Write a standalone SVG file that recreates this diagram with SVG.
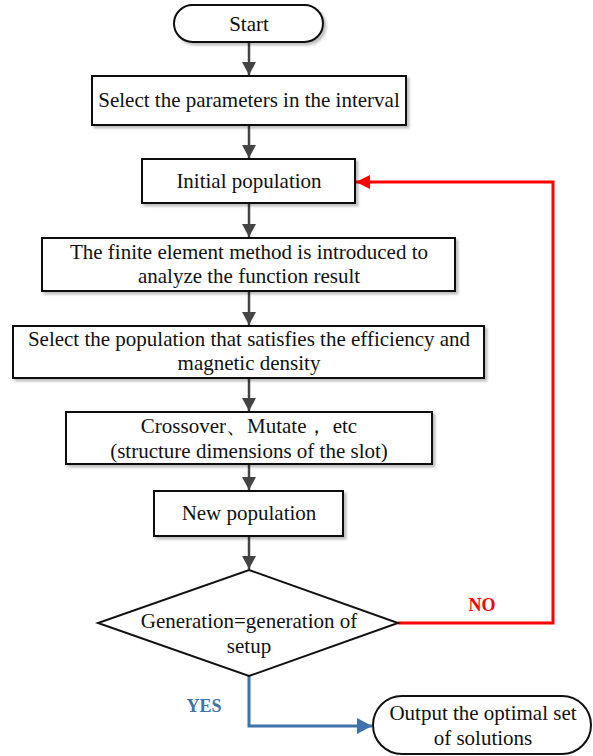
<svg xmlns="http://www.w3.org/2000/svg" width="593" height="756" viewBox="0 0 593 756">
<style>
.box{fill:#fff;stroke:#111;stroke-width:2;filter:url(#sh)}
.t{font-family:"Liberation Serif","Times New Roman",Times,serif;font-size:21px;fill:#111;text-anchor:middle}
.ln{fill:none;stroke:#444;stroke-width:2.5}
.lb{font-family:"Liberation Serif","Times New Roman",Times,serif;font-size:18px;font-weight:bold;text-anchor:middle}
</style>
<defs>
<filter id="sh" x="-10%" y="-10%" width="130%" height="140%">
<feDropShadow dx="2.5" dy="2.5" stdDeviation="1.2" flood-color="#000" flood-opacity="0.25"/>
</filter>
<marker id="ag" markerWidth="14" markerHeight="14" refX="13" refY="7" orient="auto" markerUnits="userSpaceOnUse">
<path d="M0,0 L13,7 L0,14 z" fill="#444"/>
</marker>
<marker id="ar" markerWidth="15" markerHeight="14" refX="14" refY="7" orient="auto" markerUnits="userSpaceOnUse">
<path d="M0,0 L14,7 L0,14 z" fill="#f00"/>
</marker>
<marker id="ab" markerWidth="16" markerHeight="16" refX="15" refY="8" orient="auto" markerUnits="userSpaceOnUse">
<path d="M0,0 L15,8 L0,16 z" fill="#3f73aa"/>
</marker>
</defs>
<g id="connectors">
<path class="ln" d="M249,42 V75" marker-end="url(#ag)"/>
<path class="ln" d="M249,125 V158" marker-end="url(#ag)"/>
<path class="ln" d="M249,203 V237" marker-end="url(#ag)"/>
<path class="ln" d="M249,291 V325" marker-end="url(#ag)"/>
<path class="ln" d="M249,378 V411" marker-end="url(#ag)"/>
<path class="ln" d="M249,464 V490" marker-end="url(#ag)"/>
<path class="ln" d="M249,536 V569" marker-end="url(#ag)"/>
<path d="M398,623 H553 V182 H356" fill="none" stroke="#f00" stroke-width="3" marker-end="url(#ar)"/>
<path d="M249,676 V726 H372" fill="none" stroke="#3f73aa" stroke-width="3" marker-end="url(#ab)"/>
<text class="lb" x="482" y="611" fill="#f00">NO</text>
<text class="lb" x="204" y="712" fill="#3f73aa">YES</text>
</g>
<g id="start">
<rect class="box" x="174" y="5" width="149" height="37" rx="18.5"/>
<text class="t" x="249" y="31">Start</text>
</g>
<g id="select-params">
<rect class="box" x="92" y="76" width="314" height="49"/>
<text class="t" x="249" y="107">Select the parameters in the interval</text>
</g>
<g id="initial-pop">
<rect class="box" x="142" y="159" width="213" height="44"/>
<text class="t" x="249" y="188">Initial population</text>
</g>
<g id="fem">
<rect class="box" x="42" y="238" width="413" height="53"/>
<text class="t" x="249" y="259">The finite element method is introduced to</text>
<text class="t" x="249" y="283">analyze the function result</text>
</g>
<g id="select-pop">
<rect class="box" x="13" y="326" width="471" height="52"/>
<text class="t" x="249" y="346">Select the population that satisfies the efficiency and</text>
<text class="t" x="249" y="370">magnetic density</text>
</g>
<g id="crossover">
<rect class="box" x="66" y="412" width="366" height="52"/>
<text class="t" x="249" y="433">Crossover、Mutate， etc</text>
<text class="t" x="249" y="458">(structure dimensions of the slot)</text>
</g>
<g id="new-pop">
<rect class="box" x="154" y="491" width="189" height="45"/>
<text class="t" x="249" y="520">New population</text>
</g>
<g id="decision">
<polygon class="box" points="249,570 398,623 249,676 98,623" style="filter:none"/>
<text class="t" x="249" y="628">Generation=generation of</text>
<text class="t" x="249" y="653">setup</text>
</g>
<g id="output">
<rect class="box" x="373" y="696" width="218" height="58" rx="29" style="filter:none"/>
<text class="t" x="483" y="720">Output the optimal set</text>
<text class="t" x="483" y="745">of solutions</text>
</g>
</svg>
